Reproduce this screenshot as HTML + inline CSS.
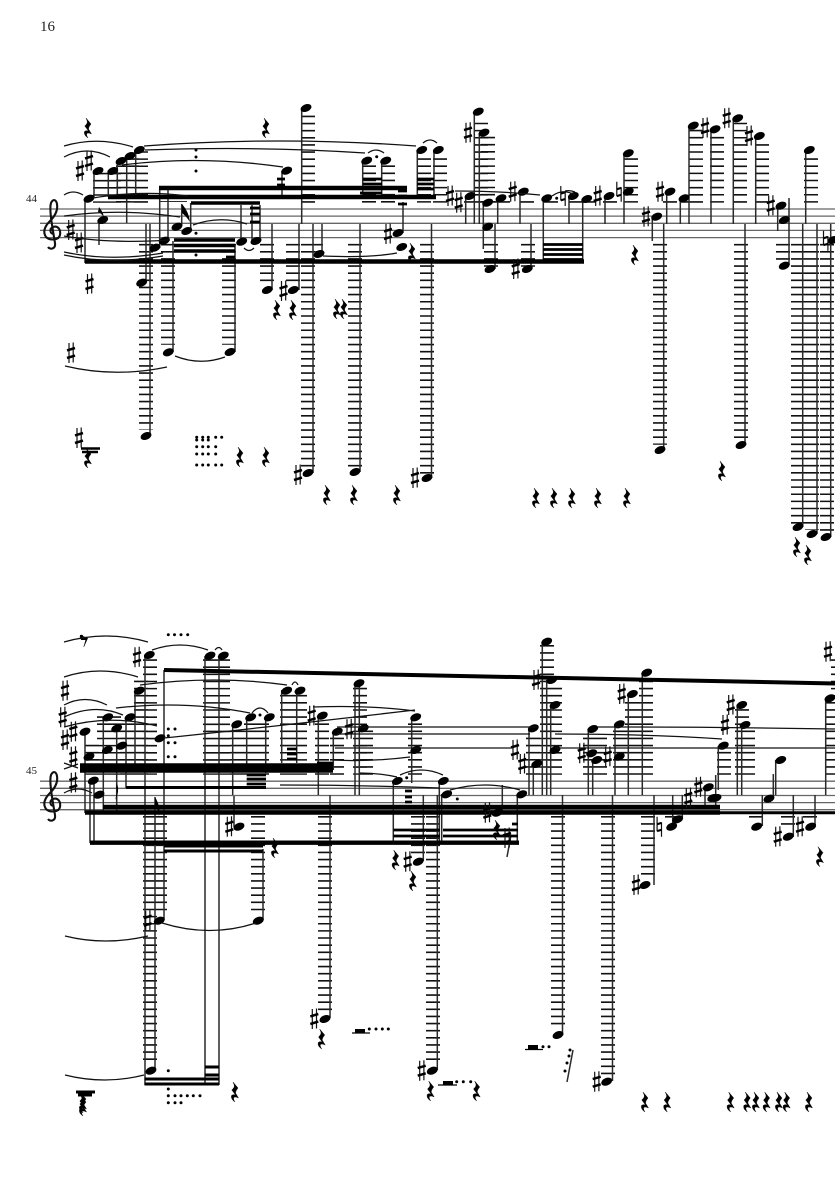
<!DOCTYPE html>
<html><head><meta charset="utf-8"><style>
html,body{margin:0;padding:0;background:#fff}
svg{display:block}
.staff{stroke:#666;stroke-width:1.3;fill:none}
.l{fill:none;stroke:#111;stroke-width:14;stroke-dasharray:1.6 5.53}
.s{fill:none;stroke:#2a2a2a;stroke-width:1.5}
.sl{fill:none;stroke:#111;stroke-width:1.25}
.b{fill:none;stroke:#000}
text{font-family:"Liberation Serif",serif;fill:#222}
</style></head><body>
<svg width="835" height="1181" viewBox="0 0 835 1181" xmlns="http://www.w3.org/2000/svg">
<defs>
<ellipse id="n" rx="5.7" ry="3.7" transform="rotate(-22)" fill="#000"/>
<g id="h"><path d="M-2-10V10M2.200-10.500V9.500" stroke="#111" stroke-width="1.200" fill="none"/><path d="M-4-2.600L4-5M-4 5L4 2.600" stroke="#000" stroke-width="2.500" fill="none"/></g>
<g id="t"><path d="M-2.200-10V4.500M2.200-4.500V10" stroke="#111" stroke-width="1.200" fill="none"/><path d="M-2.200-2.400L2.200-3.800M-2.200 4.400L2.200 3" stroke="#000" stroke-width="2.100" fill="none"/></g>
<path id="r" fill="#000" stroke="#000" stroke-width=".4" d="M-2-10L3-4Q.5-1 .5 1L3.5 6Q-.5 4-1.5 6Q-1.5 8 0 10Q-4.5 7-3.5 3.5Q-2 2 .5 3L-3.2-2Q0-5-.8-7Z"/>
<circle id="d" r="1.5" fill="#000"/>
<path id="clef" fill="none" stroke="#111" stroke-width="2.100" d="M54 234C50 234 49 229 53 227C58 225 61 230 60 235C59 240 50 241 46 237C42 231 46 225 50 221C55 216 58 210 57 204C56 199 53 199 51 203C49 209 52 225 55 243C56 249 50 250 48 247"/>
</defs>
<text x="40" y="31" font-size="15">16</text>
<text x="26" y="202" font-size="11">44</text>
<text x="26" y="774" font-size="11">45</text>

<!-- staves -->
<path class="staff" d="M40 209H835M40 216.100H835M40 223.300H835M40 230.400H835M40 237.600H835M40 781.200H835M40 788.300H835M40 795.500H835M40 802.600H835M40 809.700H835"/>
<use href="#clef"/><use href="#clef" y="572"/>

<!-- SYSTEM 1 ledgers -->
<path class="l" transform="translate(0,-.2)" d="M100 173V203M114 173V203M123 165.600V203M132 158.500V203M141 151.400V203M308 115.800V203M369 165.600V203M388 165.600V203M424 158.500V203M440 158.500V203M481 122.900V203M488 137V203M471 201.300V203M491 201.300V203M503 201.300V203M527 201.300V203M551 201.300V203M576 201.300V203M589 201.300V203M610 201.300V203M631 158.500V203M670 201.300V203M688 201.300V203M696 130V203M717 137.100V203M740 122.900V203M762 144.300V203M811 158.500V203M146 244.100V430M168 244.100V345M229 244.100V345M267 244.100V284M293 244.100V284M308 244.100V467M316 244.100V252M355 244.100V467M427 244.100V474M491 244.100V267M528 244.100V267M660 244.100V445M741 244.100V440M783 244.100V260M798 244.100V524M812 244.100V530M827 244.100V533"/>
<path class="l" style="stroke-width:28" d="M173 201.100V202"/>

<!-- SYSTEM 1 stems -->
<path class="s" d="M85 198V263M94 171V197M108.300 171V197M117.300 161V197M126.700 156V223M135.700 150V197M99 220V245M146 224V283M150 224V436M159.700 248V188M168 241V188M173 241V352M181.700 226V204M190.700 231V203M235 245V352M241 242V205M252 241V205M260 241V205M272 224V290M282 171V197M299 224V290M301.700 108V224M313 224V473M322 224V254M360 224V472M362.700 161V197M381.700 161V197M403 202V233M417.300 150V197M434 150V197M431.500 224V478M465.700 196V224M474.300 112V224M479.300 133V224M483.300 203V249M495 224V269M497.700 198V224M520 192V224M531 224V269M543.300 198V262M569 196V224M582.700 199V263M605 196V224M624 153V224M652.300 217V241M663.700 224V450M666.700 192V224M680.300 198V224M689 126V224M711 129V224M733.300 118V224M745 224V445M755.700 136V224M777.700 206V231M789 198V265M802.700 224V527M805.700 150V224M817 224V534M830.700 224V537"/>
<!-- SYSTEM 1 beams -->
<path class="b" stroke-width="4.400" d="M85 261.500H584M108 197H436M159 188H407"/>
<path class="b" stroke-width="3.500" d="M191 203H260M174 240H235M174 245.500H235M174 251H235"/>
<path class="b" stroke-width="2.800" d="M363 179H382M363 184H382M363 189H382M417 179H434M417 184H434M417 189H434M543 244.500H583M543 249.500H583M543 254.500H583M543 259.500H583M277 179H285M277 185H285M398 191H407M398 196H407M398 204H407M250 208H260M250 214H260M250 222H260M226 257H235M360 193H382"/>
<path fill="#000" d="M99 207Q104 213 104 219Q103 214 98 212Z"/>
<path fill="#000" d="M182 204Q189 212 190 222Q186 216 182 213Z"/>

<!-- SYSTEM 1 notes -->
<g>
<use href="#n" x="89" y="198.700"/><use href="#n" x="98" y="171"/><use href="#n" x="112.700" y="171"/><use href="#n" x="121" y="161"/><use href="#n" x="130" y="156"/><use href="#n" x="139.300" y="150"/><use href="#n" x="102.700" y="220"/><use href="#n" x="177" y="226.700"/><use href="#n" x="186.700" y="231"/><use href="#n" x="155" y="247.700"/><use href="#n" x="164.300" y="240.700"/><use href="#n" x="241.700" y="241.700"/><use href="#n" x="256" y="241"/><use href="#n" x="141.700" y="282.700"/><use href="#n" x="267.300" y="290"/><use href="#n" x="293.300" y="290"/><use href="#n" x="286.700" y="170.700"/><use href="#n" x="146" y="436"/><use href="#n" x="168.300" y="352.300"/><use href="#n" x="230" y="352"/><use href="#n" x="306" y="108"/><use href="#n" x="308" y="473"/><use href="#n" x="319" y="254"/><use href="#n" x="355" y="472"/><use href="#n" x="427" y="478"/><use href="#n" x="398" y="233"/><use href="#n" x="401.700" y="247"/><use href="#n" x="366.700" y="160.700"/><use href="#n" x="385.700" y="160.700"/><use href="#n" x="421.700" y="150"/><use href="#n" x="438.300" y="150"/><use href="#n" x="470" y="196"/><use href="#n" x="478.300" y="111.700"/><use href="#n" x="484" y="132.700"/><use href="#n" x="487.700" y="202.700"/><use href="#n" x="487.700" y="226.700"/><use href="#n" x="501" y="198.300"/><use href="#n" x="523.300" y="191.700"/><use href="#n" x="490" y="269"/><use href="#n" x="527.300" y="269"/><use href="#n" x="546.700" y="198.300"/><use href="#n" x="573.300" y="196"/><use href="#n" x="586.700" y="199"/><use href="#n" x="609" y="196"/><use href="#n" x="628.300" y="191.700"/><use href="#n" x="628.300" y="153.300"/><use href="#n" x="656.700" y="216.700"/><use href="#n" x="670" y="191.700"/><use href="#n" x="684" y="198.300"/><use href="#n" x="693.300" y="125.700"/><use href="#n" x="715" y="129.300"/><use href="#n" x="737.700" y="118.300"/><use href="#n" x="759.300" y="136"/><use href="#n" x="781" y="205.700"/><use href="#n" x="784.300" y="220"/><use href="#n" x="784.300" y="265.700"/><use href="#n" x="809.300" y="150"/><use href="#n" x="660" y="450"/><use href="#n" x="741" y="445"/><use href="#n" x="798" y="527"/><use href="#n" x="812" y="534"/><use href="#n" x="826" y="537"/><use href="#n" x="833" y="240"/>
</g>
<!-- SYSTEM 1 accidentals -->
<g>
<use href="#h" x="70.700" y="230"/><use href="#h" x="79" y="243"/><use href="#h" x="80" y="171"/><use href="#h" x="89" y="161"/><use href="#h" x="89.500" y="284"/><use href="#h" x="71" y="353"/><use href="#h" x="79" y="438"/><use href="#h" x="283.500" y="291"/><use href="#h" x="298" y="475"/><use href="#h" x="415" y="478"/><use href="#h" x="388" y="234"/><use href="#h" x="450" y="196"/><use href="#h" x="458.700" y="202.700"/><use href="#h" x="468" y="132.700"/><use href="#h" x="512.700" y="191.700"/><use href="#h" x="515.700" y="269"/><use href="#t" x="563" y="196"/><use href="#h" x="597.700" y="196"/><use href="#t" x="619" y="191.700"/><use href="#h" x="646" y="216.700"/><use href="#h" x="660" y="191.700"/><use href="#h" x="705" y="128"/><use href="#h" x="726.700" y="118.300"/><use href="#h" x="749" y="136"/><use href="#h" x="770.700" y="205.700"/><use href="#t" x="825.700" y="240.700"/>
</g>
<!-- SYSTEM 1 rests -->
<g>
<use href="#r" x="88" y="128"/><use href="#r" x="266" y="128"/><use href="#r" x="277" y="310"/><use href="#r" x="293" y="310"/><use href="#r" x="337" y="309"/><use href="#r" x="344" y="309"/><use href="#r" x="412" y="253"/><use href="#r" x="635" y="255"/><use href="#r" x="88" y="458"/><use href="#r" x="240" y="457"/><use href="#r" x="266" y="457"/><use href="#r" x="327" y="495"/><use href="#r" x="354" y="495"/><use href="#r" x="397" y="495"/><use href="#r" x="536" y="498"/><use href="#r" x="554" y="498"/><use href="#r" x="572" y="498"/><use href="#r" x="598" y="498"/><use href="#r" x="627" y="498"/><use href="#r" x="722" y="471"/><use href="#r" x="797" y="547"/><use href="#r" x="808" y="555"/>
</g>
<path class="b" stroke-width="2.400" d="M81 448.500H100M82 452H98"/>
<!-- SYSTEM 1 dots -->
<g>
<use href="#d" x="196" y="150"/><use href="#d" x="196" y="157"/><use href="#d" x="196" y="171"/><use href="#d" x="196" y="233.300"/><use href="#d" x="196" y="255"/><use href="#d" x="376.700" y="156.700"/><use href="#d" x="556.700" y="198.300"/>
<use href="#d" x="196.700" y="437.300"/><use href="#d" x="202.700" y="437.300"/><use href="#d" x="208.300" y="437.300"/><use href="#d" x="215.700" y="437.300"/><use href="#d" x="221.700" y="437.300"/><use href="#d" x="196.700" y="440"/><use href="#d" x="202.700" y="440"/><use href="#d" x="208.300" y="440"/><use href="#d" x="196.700" y="446.700"/><use href="#d" x="202.700" y="446.700"/><use href="#d" x="208.300" y="446.700"/><use href="#d" x="215.700" y="446.700"/><use href="#d" x="196.700" y="454"/><use href="#d" x="202.700" y="454"/><use href="#d" x="208.300" y="454"/><use href="#d" x="215.700" y="454"/><use href="#d" x="196.700" y="465"/><use href="#d" x="202.700" y="465"/><use href="#d" x="208.300" y="465"/><use href="#d" x="215.700" y="465"/><use href="#d" x="221.700" y="465"/>
</g>
<!-- SYSTEM 1 slurs -->
<path class="sl" d="M64 146Q98 136 133 147M64 157Q87 145 110 157M64 195Q73 189 83 195M64 216Q120 208 180 217M64 236Q110 244 170 240M64 252Q110 262 163 253M64 255Q110 265 163 256M144 146Q280 136 416 146M145 150Q260 146 365 153M122 165Q200 155 283 167M93 198Q140 190 188 196M193 225Q220 215 247 224M244 248Q249 253 254 248M65 366Q115 378 167 367M175 356Q200 366 225 357M423 143Q430 137 437 143M368 153Q376 147 384 153M323 256Q370 258 397 253M455 191Q500 191 540 195M552 196Q563 188 575 195M565 191Q570 190 575 192"/>

<!-- SYSTEM 2 ledgers -->
<path class="l" transform="translate(0,-.2)" d="M92 745V775M104 716.500V775M114 716.500V775M127 723.600V775M141 680.800V775M150 659.500V775M210 659.500V775M223 659.500V775M237 730.700V775M251 723.600V775M262 723.600V775M287 695.100V775M300 695.100V775M322 723.600V775M337 737.800V775M360 688V775M366 730.700V775M415 723.600V775M533 737.800V775M547 645.200V775M555 688V775M590 737.800V775M600 737.800V775M620 730.700V775M640 702.200V775M632 702.200V775M646 680.800V775M724 752.100V775M742 709.300V775M748 730.700V775M832 702.200V775M838 659.500V700M150 816.200V1065M160 816.200V915M258 816.200V915M325 816.200V1012M418 816.200V855M433 816.200V1064M558 816.200V1030M608 816.200V1075M648 816.200V880M672 816.200V823M756 816.200V823M788 816.200V830M810 816.200V823"/>
<!-- SYSTEM 2 stems -->
<path class="s" d="M85 732V813M90 781V843M94 781V843M103.300 717V812M116.700 728V812M126 717V788M135 691V764M145 655V1085M155 797V1071M164 670V920M205 656V1085M219 656V1085M232.700 724V795M234 796V827M246.700 717V765M265.700 717V773M263 849V920M281.700 690V763M296.700 690V763M318.300 715V795M330 795V1018M333.300 732V770M355 683V795M359.300 683V795M393.300 781V842M411.700 717V783M423.300 795V861M437.300 795V1070M439.300 781V843M441.700 794V843M502.300 785V812M517.300 794V842M529 728V795M533.300 764V795M542.300 642V795M546.700 680V795M550.700 705V795M562.500 795V1035M588.300 729V795M592.700 760V795M612.500 795V1081M615 724V795M628.300 694V795M642.300 673V795M654 795V885M672.700 795V826M682.300 795V819M705 787V807M715.700 775V807M718.300 746V790M737.300 705V795M741.700 725V795M762.300 795V826M773.300 774V798M775.700 760V795M793.300 795V837M815 795V827M825.700 698V795M567 1082L573 1050M507 857L511 835"/>
<!-- SYSTEM 2 beams -->
<path class="b" stroke-width="4.400" d="M85 812.500H720M103 807H720M90 842.700H519"/>
<path class="b" stroke-width="9.400" d="M80 768H333"/>
<path class="b" stroke-width="4" d="M164 670L835 683.500"/>
<path class="b" stroke-width="3" d="M720 812.700H835M126 787.500H266M164 846H263M164 851H263M144.500 1079H219M144.500 1084H219M205 1067H219M205 1075H219"/>
<path class="b" stroke-width="2.800" d="M246.700 775H266M246.700 779H266M246.700 784H266M393.300 830H440M393.300 836H440M443 830H518M443 836H518M405 791H412M405 797H412M405 802H412M287 749H297M287 754H297M287 759H297M317 763H333M512 824H518"/>
<path class="b" stroke-width="3" d="M76 1092H95M78 1095H92"/>
<path class="b" stroke-width="4" d="M528 1047H538M355 1031H365M443 1083H453"/>
<path class="b" stroke-width="1.200" d="M525 1049.500H543M352 1033H370M438 1085H457"/>
<path fill="#000" d="M155 797Q161 807 159 816Q158 808 155 805Z"/>
<path fill="#000" d="M117 783Q120 792 115 800Q118 791 116 788Z"/>

<!-- SYSTEM 2 notes -->
<g>
<use href="#n" x="149.300" y="655"/><use href="#n" x="139.300" y="690.700"/><use href="#n" x="210" y="655.700"/><use href="#n" x="223.300" y="655.700"/><use href="#n" x="286.700" y="690.700"/><use href="#n" x="300" y="690.700"/><use href="#n" x="107.700" y="717.300"/><use href="#n" x="130" y="717.300"/><use href="#n" x="116.700" y="728.300"/><use href="#n" x="85" y="731.700"/><use href="#n" x="107.300" y="750"/><use href="#n" x="121.700" y="745.700"/><use href="#n" x="89" y="756.700"/><use href="#n" x="160" y="738.300"/><use href="#n" x="236.700" y="724.300"/><use href="#n" x="250.700" y="717.300"/><use href="#n" x="269.300" y="717.300"/><use href="#n" x="93.300" y="780.700"/><use href="#n" x="99" y="794.700"/><use href="#n" x="239" y="826.700"/><use href="#n" x="159.300" y="920.700"/><use href="#n" x="258.300" y="920.700"/><use href="#n" x="151" y="1070.700"/><use href="#n" x="322.300" y="715.700"/><use href="#n" x="337.300" y="731.700"/><use href="#n" x="363.300" y="728.300"/><use href="#n" x="359" y="683.300"/><use href="#n" x="415.700" y="717.300"/><use href="#n" x="415.700" y="750"/><use href="#n" x="397.300" y="781"/><use href="#n" x="443.300" y="781"/><use href="#n" x="446.700" y="794.300"/><use href="#n" x="497.300" y="812.700"/><use href="#n" x="521.700" y="794.300"/><use href="#n" x="418.300" y="861.700"/><use href="#n" x="325" y="1019"/><use href="#n" x="432.300" y="1070.700"/><use href="#n" x="558" y="1035"/><use href="#n" x="606.700" y="1081.700"/><use href="#n" x="645" y="885"/><use href="#n" x="546.700" y="641.700"/><use href="#n" x="551.700" y="680"/><use href="#n" x="555" y="705"/><use href="#n" x="533.300" y="728.300"/><use href="#n" x="555" y="750"/><use href="#n" x="536.700" y="764"/><use href="#n" x="592.700" y="729"/><use href="#n" x="591.700" y="753.300"/><use href="#n" x="596.700" y="760"/><use href="#n" x="619.300" y="724.300"/><use href="#n" x="619.300" y="756.700"/><use href="#n" x="632.300" y="694"/><use href="#n" x="646.700" y="672.700"/><use href="#n" x="723.300" y="745.700"/><use href="#n" x="708.300" y="787.300"/><use href="#n" x="712.700" y="798"/><use href="#n" x="716" y="798"/><use href="#n" x="741.700" y="705"/><use href="#n" x="745" y="725"/><use href="#n" x="769" y="798.700"/><use href="#n" x="756.700" y="826.700"/><use href="#n" x="780.700" y="760"/><use href="#n" x="788.300" y="836.700"/><use href="#n" x="810.700" y="826.700"/><use href="#n" x="830" y="698.300"/><use href="#n" x="671.700" y="826.700"/><use href="#n" x="677.700" y="819.300"/>
</g>
<!-- SYSTEM 2 accidentals -->
<g>
<use href="#h" x="73.300" y="782.700"/><use href="#h" x="73.300" y="756.700"/><use href="#h" x="73.300" y="731.700"/><use href="#h" x="65" y="740"/><use href="#h" x="62.700" y="717.300"/><use href="#h" x="65" y="690.700"/><use href="#h" x="137" y="657.300"/><use href="#h" x="147.700" y="920.700"/><use href="#h" x="229.300" y="826.700"/><use href="#h" x="311.700" y="715.700"/><use href="#h" x="349" y="729.300"/><use href="#h" x="314.300" y="1019"/><use href="#h" x="407.700" y="861.700"/><use href="#h" x="421.700" y="1070.700"/><use href="#h" x="487.300" y="812.700"/><use href="#h" x="536" y="680"/><use href="#h" x="515" y="750"/><use href="#h" x="522.300" y="764"/><use href="#h" x="581.700" y="753.300"/><use href="#h" x="607.700" y="756.700"/><use href="#h" x="621.700" y="694"/><use href="#h" x="596.700" y="1081.700"/><use href="#h" x="636" y="885"/><use href="#h" x="698.300" y="787.300"/><use href="#h" x="688.300" y="798"/><use href="#h" x="730.700" y="705"/><use href="#h" x="725" y="725"/><use href="#h" x="777.700" y="836.700"/><use href="#h" x="800" y="826.700"/><use href="#h" x="828" y="651.700"/><use href="#h" x="507" y="838"/><use href="#t" x="659.300" y="826.700"/>
</g>
<!-- SYSTEM 2 rests -->
<g>
<use href="#r" x="275" y="848"/><use href="#r" x="395.700" y="860"/><use href="#r" x="413" y="881"/><use href="#r" x="497" y="830"/><use href="#r" x="820" y="856.700"/><use href="#r" x="321.700" y="1039"/><use href="#r" x="430.700" y="1091"/><use href="#r" x="476.700" y="1091"/><use href="#r" x="235" y="1092"/><use href="#r" x="83" y="1103"/><use href="#r" x="83" y="1106"/>
<use href="#r" x="645" y="1102"/><use href="#r" x="667.300" y="1102"/><use href="#r" x="730.700" y="1102"/><use href="#r" x="747.300" y="1102"/><use href="#r" x="756" y="1102"/><use href="#r" x="766.700" y="1102"/><use href="#r" x="779" y="1102"/><use href="#r" x="786.700" y="1102"/><use href="#r" x="809" y="1102"/>
</g>
<path fill="#000" d="M80 635L88 638L84 647L83.500 647L85.500 640L81 640Z"/>
<circle cx="81.500" cy="636.500" r="1.700" fill="#000"/>
<!-- SYSTEM 2 dots -->
<g>
<use href="#d" x="168.300" y="634.700"/><use href="#d" x="174.500" y="634.700"/><use href="#d" x="181" y="634.700"/><use href="#d" x="187.700" y="634.700"/><use href="#d" x="168.300" y="729"/><use href="#d" x="175" y="729"/><use href="#d" x="168.300" y="735.700"/><use href="#d" x="168.300" y="742.700"/><use href="#d" x="175" y="742.700"/><use href="#d" x="168.300" y="756.700"/><use href="#d" x="175" y="756.700"/><use href="#d" x="260" y="715"/><use href="#d" x="406.700" y="777.700"/><use href="#d" x="457.300" y="799"/><use href="#d" x="168.300" y="1070.700"/><use href="#d" x="168.300" y="1089"/>
<use href="#d" x="168.300" y="1095.700"/><use href="#d" x="175" y="1095.700"/><use href="#d" x="181" y="1095.700"/><use href="#d" x="187.300" y="1095.700"/><use href="#d" x="193.300" y="1095.700"/><use href="#d" x="200" y="1095.700"/><use href="#d" x="168.300" y="1102.700"/><use href="#d" x="175" y="1102.700"/><use href="#d" x="181" y="1102.700"/>
<use href="#d" x="369.300" y="1029"/><use href="#d" x="376" y="1029"/><use href="#d" x="382.300" y="1029"/><use href="#d" x="388.300" y="1029"/><use href="#d" x="456.700" y="1081.700"/><use href="#d" x="463.300" y="1081.700"/><use href="#d" x="470.700" y="1081.700"/><use href="#d" x="543" y="1046.700"/><use href="#d" x="549" y="1046.700"/><use href="#d" x="570" y="1050"/><use href="#d" x="569" y="1056"/><use href="#d" x="567" y="1063"/><use href="#d" x="565" y="1071"/>
</g>
<!-- SYSTEM 2 slurs -->
<path class="sl" d="M64 642Q106 630 148 642M64 677Q100 665 138 677M64 705Q85 694 107 705M64 717Q95 703 123 715M64 727Q110 714 157 726M64 763L78 768M64 769L78 764M64 793Q78 785 92 793M152 650Q180 640 208 650M215 650Q219 645 222 650M140 685Q215 675 287 685M116 708Q185 700 250 713M252 713Q260 703 268 713M292 685Q295 679 298 685M313 707Q370 705 415 711M337 727H537M598 727Q720 727 835 729M337 734H530M555 734Q650 734 722 739M335 748H513M555 748H835M333 760Q370 762 410 757M360 773Q380 773 397 777M400 775Q421 765 443 775M450 790Q485 780 520 790M280 785Q360 785 440 788M65 936Q105 946 148 936M65 1075Q105 1085 144 1075M162 923Q210 938 256 923M164 738Q260 728 415 710"/>
</svg>
</body></html>
